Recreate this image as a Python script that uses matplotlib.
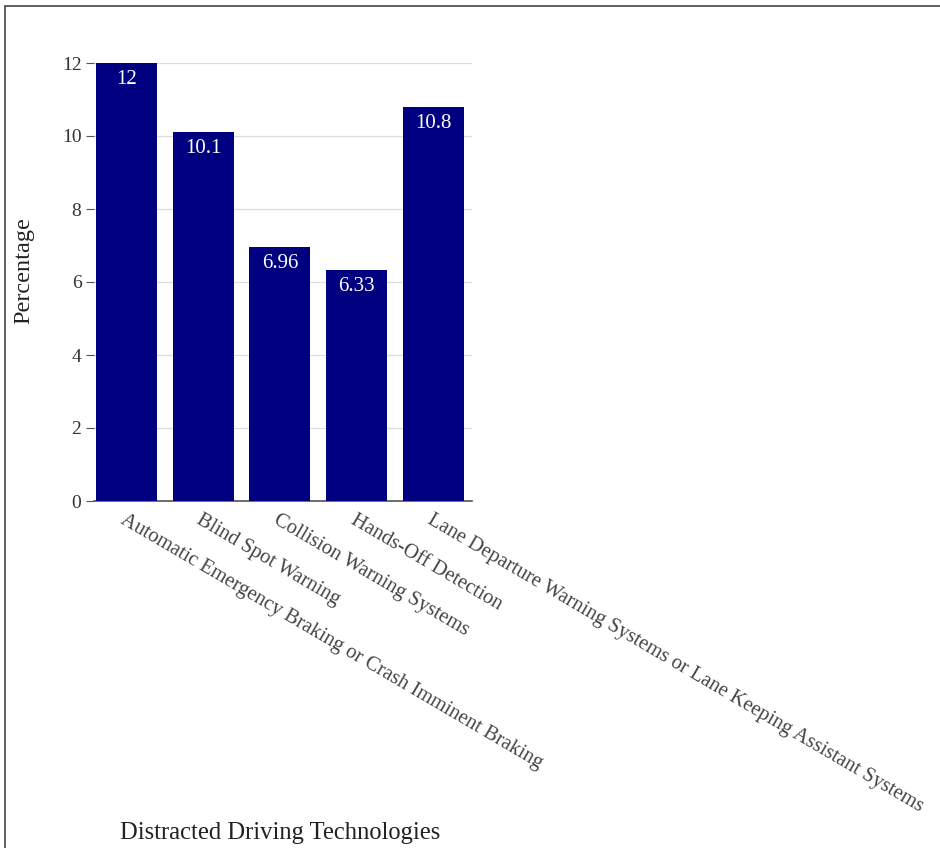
import matplotlib.pyplot as plt
from matplotlib.patches import Rectangle

# ===== Data =====
categories = [
    "Automatic Emergency Braking or Crash Imminent Braking",
    "Blind Spot Warning",
    "Collision Warning Systems",
    "Hands-Off Detection",
    "Lane Departure Warning Systems or Lane Keeping Assistant Systems",
]
values = [12, 10.1, 6.96, 6.33, 10.8]
value_labels = ["12", "10.1", "6.96", "6.33", "10.8"]
y_ticks = [0, 2, 4, 6, 8, 10, 12]

# ===== Style =====
font_name = "Liberation Serif"
bar_color = "#000080"
W, H = 940, 848

fig = plt.figure(figsize=(W / 100, H / 100), dpi=100)
# axes box in pixel coords: x 94..472, y 63..501
ax = fig.add_axes([94 / W, 1 - 501 / H, (472 - 94) / W, (501 - 63) / H])

x = list(range(len(categories)))
ax.bar(x, values, width=0.795, color=bar_color, zorder=3)

ax.set_xlim(-0.42, 4.5)
ax.set_ylim(0, 12)

# value labels inside bar tops
for xi, v, lab in zip(x, values, value_labels):
    ax.annotate(lab, (xi, v), xytext=(0, -5), textcoords="offset points",
                ha="center", va="top", color="white", fontsize=15,
                fontname=font_name, zorder=4)

# ===== Axes =====
ax.set_yticks(y_ticks)
ax.set_yticklabels([str(t) for t in y_ticks], fontsize=14, fontname=font_name,
                   color="#333333")
ax.tick_params(axis="y", length=6, width=0.8, color="#555555", pad=3)

ax.set_xticks(x)
ax.set_xticklabels(categories, rotation=-30.4, ha="left", va="top",
                   rotation_mode="anchor", fontsize=14.8, fontname=font_name,
                   color="#444444")
ax.tick_params(axis="x", length=0, pad=7)

ax.grid(axis="y", color="#dddddd", linewidth=0.9, zorder=0)
for side in ["top", "right", "left"]:
    ax.spines[side].set_visible(False)
ax.spines["bottom"].set_color("#555555")
ax.spines["bottom"].set_linewidth(1.2)

ax.set_ylabel("Percentage", fontsize=17.5, fontname=font_name, color="#222222")
ax.yaxis.set_label_coords(-0.158, 0.525)

fig.text(280 / W, 1 - 833 / H, "Distracted Driving Technologies",
         ha="center", va="center", fontsize=17.7, fontname=font_name,
         color="#222222")

# ===== Outer frame =====
fig.patches.append(Rectangle((5 / W, -0.01), 1.0, 1 - 6 / H + 0.01,
                             transform=fig.transFigure, fill=False,
                             edgecolor="#444444", linewidth=1.2))

fig.savefig("out.png", dpi=100)
